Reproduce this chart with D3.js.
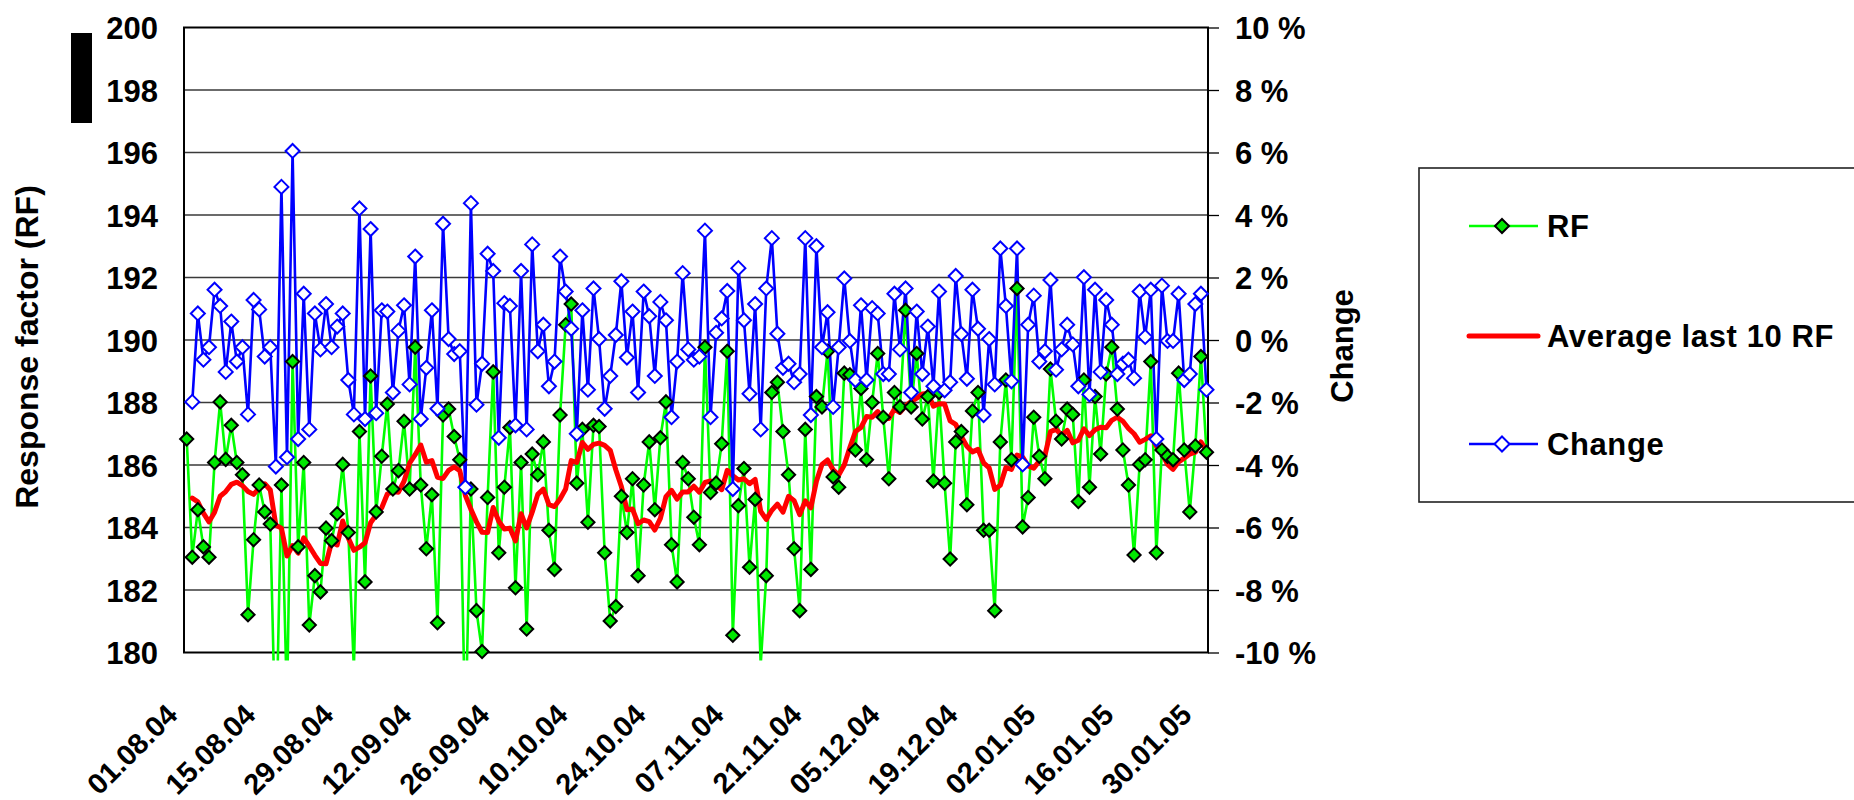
<!DOCTYPE html>
<html>
<head>
<meta charset="utf-8">
<script src="https://cdn.jsdelivr.net/npm/d3@7"></script>
<style>
  html, body { margin: 0; padding: 0; background: #ffffff; }
  svg { display: block; }
  text { font-family: "Liberation Sans", Arial, sans-serif; font-weight: bold; fill: #000; }
</style>
</head>
<body>
<svg id="chart" width="1854" height="800"></svg>
<script>
// ---- data -------------------------------------------------------------
// one measurement per day, starting on this date
const firstDay = "01.08.04";

// response factor per day
const rfValues = [
  186.83, 183.05, 184.57, 183.38, 183.05, 186.08, 188.02, 186.18, 187.27, 186.08,
  185.69, 181.21, 183.61, 185.36, 184.50, 184.11, 176.65, 185.36, 178.35, 189.31,
  183.38, 186.08, 180.88, 182.46, 181.94, 183.98, 183.58, 184.44, 186.02, 183.84,
  179.47, 187.07, 182.26, 188.85, 184.50, 186.28, 187.95, 185.23, 185.82, 187.40,
  185.23, 189.77, 185.36, 183.32, 185.05, 180.95, 187.60, 187.79, 186.91, 186.17,
  177.40, 185.23, 181.34, 180.03, 184.96, 188.98, 183.19, 185.29, 187.20, 182.07,
  186.08, 180.75, 186.35, 185.69, 186.74, 183.91, 182.66, 187.60, 190.49, 191.15,
  185.42, 187.14, 184.17, 187.27, 187.23, 183.19, 181.01, 181.47, 185.00, 183.84,
  185.56, 182.46, 185.36, 186.74, 184.57, 186.87, 188.02, 183.45, 182.26, 186.08,
  185.56, 184.33, 183.45, 189.77, 185.12, 185.42, 186.68, 189.64, 180.55, 184.70,
  185.89, 182.73, 184.90, 179.61, 182.46, 188.32, 188.65, 187.07, 185.69, 183.32,
  181.34, 187.14, 182.66, 188.19, 187.86, 189.64, 185.62, 185.29, 188.94, 188.89,
  186.48, 188.45, 186.17, 188.00, 189.57, 187.53, 185.56, 188.32, 187.86, 190.95,
  187.86, 189.57, 187.47, 188.19, 185.49, 188.32, 185.42, 182.99, 186.74, 187.07,
  184.73, 187.73, 188.32, 183.91, 183.91, 181.34, 186.74, 188.72, 186.17, 191.65,
  184.02, 184.96, 187.53, 186.28, 185.56, 189.07, 187.40, 186.83, 187.79, 187.62,
  184.83, 188.72, 185.29, 188.19, 186.35, 188.91, 189.77, 187.79, 186.48, 185.36,
  183.12, 186.02, 186.17, 189.31, 183.19, 186.48, 186.28, 186.17, 188.94, 186.48,
  184.50, 186.61, 189.47, 186.41
];

// average of the last 10 RF values
const avgValues = [
  null,   184.94, 184.82, 184.46, 184.18, 184.49, 185.00, 185.15, 185.38, 185.45,
  185.34, 185.15, 185.06, 185.26, 185.40, 185.20, 184.07, 183.98, 183.09, 183.42,
  183.18, 183.67, 183.40, 183.11, 182.85, 182.84, 183.53, 183.44, 184.21, 183.66,
  183.27, 183.37, 183.51, 184.15, 184.40, 184.63, 185.07, 185.15, 185.13, 185.48,
  186.06, 186.33, 186.64, 186.09, 186.14, 185.61, 185.57, 185.83, 185.94, 185.82,
  185.03, 184.58, 184.18, 183.85, 183.84, 184.64, 184.20, 183.95, 183.98, 183.57,
  184.44, 183.99, 184.49, 185.06, 185.23, 184.73, 184.67, 184.91, 185.23, 186.14,
  186.08, 186.72, 186.50, 186.66, 186.70, 186.63, 186.47, 185.85, 185.31, 184.57,
  184.59, 184.12, 184.24, 184.19, 183.92, 184.29, 184.99, 185.19, 184.91, 185.14,
  185.14, 185.32, 185.13, 185.44, 185.49, 185.35, 185.21, 185.83, 185.66, 185.52,
  185.56, 185.40, 185.54, 184.52, 184.26, 184.55, 184.75, 184.49, 185.00, 184.86,
  184.41, 184.85, 184.63, 185.48, 186.02, 186.16, 185.85, 185.68, 186.00, 186.56,
  187.07, 187.20, 187.55, 187.53, 187.71, 187.49, 187.49, 187.79, 187.68, 187.89,
  188.03, 188.14, 188.27, 188.29, 187.88, 187.96, 187.95, 187.41, 187.30, 186.91,
  186.60, 186.42, 186.50, 186.07, 185.91, 185.22, 185.35, 185.92, 185.86, 186.32,
  186.25, 185.97, 185.90, 186.13, 186.30, 187.07, 187.14, 186.95, 187.11, 186.71,
  186.79, 187.16, 186.94, 187.13, 187.21, 187.19, 187.43, 187.53, 187.40, 187.17,
  187.00, 186.73, 186.82, 186.93, 186.61, 186.37, 186.02, 185.86, 186.10, 186.22,
  186.35, 186.41, 186.74, 186.45
];

// day-to-day change of RF, in percent
const changeValues = [
  null,  -1.98,  0.85, -0.63, -0.23,  1.61,  1.09, -1.02,  0.59, -0.69,
  -0.23, -2.38,  1.28,  0.98, -0.53, -0.23, -4.05,  4.90, -3.75,  6.05,
  -3.17,  1.48, -2.86,  0.85, -0.30,  1.15, -0.23,  0.43,  0.85, -1.28,
  -2.38,  4.21, -2.53,  3.55, -2.34,  0.95,  0.91, -1.68,  0.30,  1.11,
  -1.42,  2.67, -2.53, -0.89,  0.95, -2.20,  3.72,  0.03, -0.45, -0.36,
  -4.71,  4.38, -2.07, -0.76,  2.76,  2.21, -3.13,  1.18,  1.09, -2.73,
   2.21, -2.86,  3.06, -0.36,  0.49, -1.48, -0.69,  2.67,  1.55,  0.36,
  -3.00,  0.95, -1.59,  1.65,  0.03, -2.20, -1.15,  0.16,  1.88, -0.56,
   0.91, -1.68,  1.55,  0.76, -1.15,  1.22,  0.63, -2.47, -0.69,  2.14,
  -0.30, -0.63, -0.53,  3.50, -2.47,  0.23,  0.69,  1.57, -4.77,  2.30,
   0.63, -1.72,  1.15, -2.86,  1.65,  3.26,  0.20, -0.89, -0.76, -1.35,
  -1.09,  3.26, -2.40,  3.00, -0.23,  0.89, -2.14, -0.23,  1.97, -0.03,
  -1.28,  1.11, -1.28,  1.02,  0.85, -1.09, -1.09,  1.48, -0.30,  1.65,
  -1.68,  0.91, -1.09,  0.43, -1.48,  1.55, -1.61, -1.35,  2.05,  0.19,
  -1.24,  1.61,  0.36, -2.40,  0.03, -1.42,  2.93,  1.09, -1.32,  2.93,
  -3.98,  0.49,  1.42, -0.69, -0.36,  1.92, -0.95, -0.30,  0.49, -0.14,
  -1.48,  2.01, -1.74,  1.61, -1.02,  1.28,  0.49, -1.09, -0.76, -0.63,
  -1.22,  1.55,  0.10,  1.61, -3.17,  1.74, -0.03, -0.03,  1.48, -1.28,
  -1.09,  1.15,  1.48, -1.59
];

// axis ticks
const rfTicks = [180, 182, 184, 186, 188, 190, 192, 194, 196, 198, 200];
const changeTicks = [-10, -8, -6, -4, -2, 0, 2, 4, 6, 8, 10];
const dateTickLabels = ["01.08.04", "15.08.04", "29.08.04", "12.09.04", "26.09.04",
  "10.10.04", "24.10.04", "07.11.04", "21.11.04", "05.12.04", "19.12.04",
  "02.01.05", "16.01.05", "30.01.05"];

// legend entries
const legendLabels = ["RF", "Average last 10 RF", "Change"];

// ---- layout -----------------------------------------------------------
const plot = { left: 184, right: 1208, top: 27.5, bottom: 652.5 };
const FONT = 31;
const GREEN = "#00ff00", RED = "#ff0000", BLUE = "#0000ff";

const svg = d3.select("#chart");
const parseDay = d3.timeParse("%d.%m.%y");
const fmtDay = d3.timeFormat("%d.%m.%y");
const t0 = parseDay(firstDay);
const days = rfValues.map((_, i) => d3.timeDay.offset(t0, i));

const x = d3.scaleTime()
  .domain([days[0], days[days.length - 1]])
  .range([186.7, 1206.5]);
const yRF = d3.scaleLinear().domain([180, 200]).range([plot.bottom, plot.top]);
const yCh = d3.scaleLinear().domain([-10, 10]).range([plot.bottom, plot.top]);

const diamond = s => `M0,${-s}L${s},0L0,${s}L${-s},0Z`;

// redaction block at top left
svg.append("rect")
  .attr("x", 71).attr("y", 33).attr("width", 21).attr("height", 90)
  .attr("fill", "#000");

// horizontal gridlines
svg.append("g")
  .selectAll("line")
  .data(rfTicks.slice(1, -1))
  .join("line")
  .attr("x1", plot.left).attr("x2", plot.right)
  .attr("y1", d => yRF(d)).attr("y2", d => yRF(d))
  .attr("stroke", "#3a3a3a").attr("stroke-width", 1.3);

// plot frame
svg.append("rect")
  .attr("x", plot.left).attr("y", plot.top)
  .attr("width", plot.right - plot.left).attr("height", plot.bottom - plot.top)
  .attr("fill", "none").attr("stroke", "#000").attr("stroke-width", 2);

// left axis (RF)
const axL = svg.append("g")
  .attr("transform", `translate(${plot.left},0)`)
  .call(d3.axisLeft(yRF).tickValues(rfTicks).tickSize(0).tickPadding(26));
axL.select(".domain").remove();
axL.selectAll("text").attr("font-size", FONT).attr("dy", "0.36em")
  .style("font-family", "'Liberation Sans', Arial, sans-serif");

// right axis (change)
const axR = svg.append("g")
  .attr("transform", `translate(${plot.right},0)`)
  .call(d3.axisRight(yCh).tickValues(changeTicks).tickSize(11).tickPadding(16)
    .tickFormat(d => `${d} %`));
axR.select(".domain").remove();
axR.selectAll(".tick line").attr("stroke", "#000").attr("stroke-width", 1.3);
axR.selectAll("text").attr("font-size", FONT).attr("dy", "0.36em")
  .style("font-family", "'Liberation Sans', Arial, sans-serif");

// bottom axis (dates), labels rotated
const axB = svg.append("g")
  .attr("transform", `translate(0,${plot.bottom})`)
  .call(d3.axisBottom(x).tickValues(dateTickLabels.map(parseDay)).tickSize(0)
    .tickFormat(fmtDay));
axB.select(".domain").remove();
axB.selectAll("text")
  .attr("font-size", 29)
  .attr("x", 0).attr("y", 0).attr("dy", 0)
  .attr("text-anchor", "end")
  .attr("transform", "translate(-8,64) rotate(-45)")
  .style("font-family", "'Liberation Sans', Arial, sans-serif");

// axis titles
svg.append("text")
  .attr("transform", "translate(38,347) rotate(-90)")
  .attr("text-anchor", "middle").attr("font-size", 32)
  .text("Response factor (RF)");
svg.append("text")
  .attr("transform", "translate(1353,346) rotate(-90)")
  .attr("text-anchor", "middle").attr("font-size", FONT)
  .text("Change");

// ---- series -----------------------------------------------------------
svg.append("defs").append("clipPath").attr("id", "plotClip")
  .append("rect")
  .attr("x", plot.left).attr("y", plot.top - 8)
  .attr("width", plot.right - plot.left).attr("height", plot.bottom - plot.top + 16);

const series = svg.append("g").attr("clip-path", "url(#plotClip)");

const lineRF = d3.line().defined(d => d != null)
  .x((d, i) => x(days[i])).y(d => yRF(d));
const lineCh = d3.line().defined(d => d != null)
  .x((d, i) => x(days[i])).y(d => yCh(d));

// primary group: lines first, then markers
series.append("path")
  .attr("d", lineRF(rfValues))
  .attr("fill", "none").attr("stroke", GREEN).attr("stroke-width", 2.6)
  .attr("stroke-linejoin", "round");
series.append("path")
  .attr("d", lineRF(avgValues))
  .attr("fill", "none").attr("stroke", RED).attr("stroke-width", 5)
  .attr("stroke-linejoin", "round").attr("stroke-linecap", "round");

const rfPts = rfValues.map((v, i) => ({ v, i })).filter(d => d.v >= 180 && d.v <= 200);
svg.append("g").selectAll("path")
  .data(rfPts)
  .join("path")
  .attr("transform", d => `translate(${x(days[d.i])},${yRF(d.v)})`)
  .attr("d", diamond(6.6))
  .attr("fill", "#00e800").attr("stroke", "#000").attr("stroke-width", 2);

// secondary group
series.append("path")
  .attr("d", lineCh(changeValues))
  .attr("fill", "none").attr("stroke", BLUE).attr("stroke-width", 2.6)
  .attr("stroke-linejoin", "round");

const chPts = changeValues.map((v, i) => ({ v, i })).filter(d => d.v != null && d.v >= -10 && d.v <= 10);
svg.append("g").selectAll("path")
  .data(chPts)
  .join("path")
  .attr("transform", d => `translate(${x(days[d.i])},${yCh(d.v)})`)
  .attr("d", diamond(7))
  .attr("fill", "#fff").attr("stroke", BLUE).attr("stroke-width", 2);

// ---- legend -----------------------------------------------------------
const lg = svg.append("g");
lg.append("rect")
  .attr("x", 1419).attr("y", 168).attr("width", 520).attr("height", 334)
  .attr("fill", "#fff").attr("stroke", "#222").attr("stroke-width", 1.6);

const rows = [
  { label: legendLabels[0], y: 226, color: GREEN, width: 2.6, marker: "rf" },
  { label: legendLabels[1], y: 336, color: RED, width: 5, marker: null },
  { label: legendLabels[2], y: 444, color: BLUE, width: 2.6, marker: "ch" }
];
rows.forEach(r => {
  lg.append("line")
    .attr("x1", 1469).attr("x2", 1538).attr("y1", r.y).attr("y2", r.y)
    .attr("stroke", r.color).attr("stroke-width", r.width)
    .attr("stroke-linecap", r.marker ? "butt" : "round");
  if (r.marker === "rf") {
    lg.append("path").attr("transform", `translate(1502,${r.y})`)
      .attr("d", diamond(7)).attr("fill", "#00e800").attr("stroke", "#000").attr("stroke-width", 2);
  } else if (r.marker === "ch") {
    lg.append("path").attr("transform", `translate(1502,${r.y})`)
      .attr("d", diamond(7.5)).attr("fill", "#fff").attr("stroke", BLUE).attr("stroke-width", 2);
  }
  lg.append("text")
    .attr("x", 1547).attr("y", r.y).attr("dy", "0.36em")
    .attr("font-size", FONT).attr("letter-spacing", 0.6)
    .text(r.label);
});
</script>
</body>
</html>
